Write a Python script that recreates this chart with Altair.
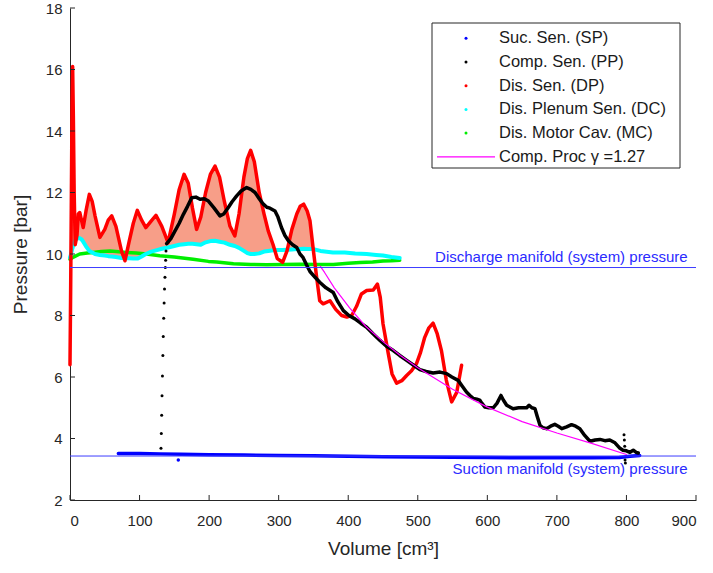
import altair as alt
import pandas as pd

# ---------------- data ----------------
# Dis. Sen. (DP) - red
dp_vol = [0, 1, 2, 3, 3.8, 4.8, 6, 7.5, 10, 12, 14, 16.5, 19, 23, 27.8, 32, 36, 43, 50, 55,
          60, 66, 74, 79, 85, 91, 96.8, 103, 109, 116, 123.6, 132, 141, 150, 157, 164, 170,
          176, 182, 188, 195, 202, 208.5, 215, 222, 230, 237, 243, 250, 255, 259.7, 265, 272,
          279, 285, 292, 298, 305.7, 312, 319, 326, 331, 336, 341, 345, 350,
          354.6, 359, 364, 373.8, 382, 390.6, 398, 405, 412, 419, 426.5, 436, 442, 446, 450,
          457.6, 463, 469.6, 477, 484, 491, 498, 504, 510, 516, 522, 528, 534, 541, 548.7, 556, 563]
dp_p = [6.4, 9.0, 12.0, 15.0, 16.1, 14.5, 12.0, 10.3, 10.6, 11.3, 11.35, 11.1, 10.86, 11.4, 11.94,
        11.7, 11.24, 10.54, 10.8, 11.1, 11.24, 10.9, 10.1, 9.78, 10.4, 11.0, 11.42, 11.1, 10.86,
        11.05, 11.26, 10.9, 10.37, 11.3, 12.1, 12.59, 12.3, 11.5, 10.8, 11.2, 12.0, 12.6, 12.86,
        12.5, 11.7, 10.9, 10.59, 11.3, 12.5, 13.1, 13.37, 13.0, 12.0, 11.3, 10.75, 10.3, 9.85,
        9.73, 10.1, 10.8, 11.3, 11.55, 11.62, 11.4, 11.08, 10.1,
        9.24, 8.48, 8.38, 8.48, 8.2, 8.0, 7.95, 8.0, 8.3, 8.7, 8.81, 8.83, 9.02, 8.6, 7.73,
        6.76, 6.1, 5.8, 5.88, 6.05, 6.2, 6.43, 6.8, 7.29, 7.6, 7.75, 7.4, 6.86, 5.9, 5.19, 5.5, 6.38]

# Dis. Plenum Sen. (DC) - cyan
dc_vol = [0, 1, 2, 3, 3.8, 4.8, 6, 7.5, 10, 12, 14, 16.5, 19, 23, 27.8, 32, 36, 43, 50, 55,
          60, 66, 74, 79, 85, 91, 96.8, 103, 109, 116, 123.6, 132, 141, 150, 157, 164, 170,
          176, 182, 188, 195, 202, 208.5, 215, 222, 230, 237, 243, 250, 255, 259.7, 265, 272,
          279, 285, 292, 298, 305.7, 312, 319, 326, 331, 336, 341, 345, 350,
          360, 378, 395, 410, 426.5, 440, 450, 462, 474]
dc_p = [9.89, 9.95, 10.05, 10.15, 10.2, 10.3, 10.38, 10.45, 10.5, 10.52, 10.51, 10.48, 10.4,
        10.25, 10.1, 10.05, 10.0, 9.97, 9.95, 9.93, 9.92, 9.9, 9.87, 9.86, 9.86, 9.85, 9.85,
        9.92, 10.0, 10.07, 10.12, 10.17, 10.21, 10.26, 10.3, 10.32, 10.33, 10.33, 10.32, 10.3,
        10.38, 10.42, 10.43, 10.4, 10.37, 10.3, 10.26, 10.2, 10.1, 10.03, 10.0, 10.0, 10.02,
        10.08, 10.1, 10.12, 10.13, 10.13, 10.14, 10.15, 10.16, 10.16, 10.17, 10.16, 10.16, 10.16,
        10.1, 10.05, 10.05, 10.02, 10.0, 9.97, 9.95, 9.9, 9.87]

# Dis. Motor Cav. (MC) - green
mc_vol = [0, 5, 14, 25, 33, 45, 57.5, 70, 81, 95, 110, 129, 150, 177, 199, 211, 235, 260,
          283, 305, 330, 355, 378.6, 400, 417, 435, 450, 462, 474]
mc_p = [9.83, 9.9, 10.0, 10.03, 10.05, 10.08, 10.1, 10.07, 10.05, 10.03, 10.0, 9.94, 9.9,
        9.83, 9.76, 9.74, 9.68, 9.66, 9.65, 9.66, 9.67, 9.66, 9.66, 9.7, 9.72, 9.74, 9.77,
        9.78, 9.8]

# Suc. Sen. (SP) - blue
sp_vol = [69.5, 100, 130, 160, 200, 250, 300, 350, 400, 450, 500, 550, 600, 650, 700, 750,
          790, 805, 819]
sp_p = [3.51, 3.51, 3.5, 3.49, 3.47, 3.46, 3.45, 3.44, 3.42, 3.41, 3.4, 3.39, 3.38, 3.37,
        3.37, 3.37, 3.38, 3.42, 3.45]
sp_out_vol = [155.7]
sp_out_p = [3.30]

# Comp. Sen. (PP) - black: fast rise (sparse samples) and continuous part
pp_rise_vol = [130.8, 131.3, 131.8, 132.3, 132.9, 133.5, 134.1, 134.7, 135.3, 135.9, 136.5,
               137.0, 137.5, 138.0, 796.5, 797.0, 797.5, 798.0, 798.5]
pp_rise_p = [3.68, 4.16, 4.76, 5.39, 6.03, 6.7, 7.32, 7.91, 8.41, 8.86, 9.24, 9.56, 9.8, 10.1,
             4.12, 3.95, 3.75, 3.3, 3.2]
pp_vol = [139, 145, 151, 157, 163, 169, 175, 181, 187, 193, 199, 207, 215.6, 221, 227.6, 233,
          239.6, 246, 254, 260, 266, 272, 278, 283, 287.5, 294.7, 299, 304, 309, 314, 320, 326,
          330.6, 335, 340, 345, 352, 359, 368, 378.5, 385, 393, 401, 409.7, 418, 426.5, 436,
          445.7, 455, 464.8, 474, 484, 493, 503, 512, 522, 532, 541.5, 549, 558, 564, 570, 575,
          580, 585, 589, 592, 596.6, 602, 608.6, 614, 619.6, 623, 627.8, 637, 645, 656.6, 660,
          664, 668.5, 672, 675.7, 680, 685, 691, 697, 702, 707, 714, 721, 727, 733, 740, 747.5,
          755, 762, 769, 776, 783.5, 790.7, 795, 800, 805, 809.8, 814, 817]
pp_p = [10.34, 10.5, 10.75, 11.0, 11.29, 11.55, 11.83, 11.85, 11.78, 11.8, 11.72, 11.5, 11.24,
        11.3, 11.51, 11.7, 11.89, 12.05, 12.16, 12.1, 12.0, 11.8, 11.62, 11.52, 11.49, 11.4,
        11.2, 10.86, 10.6, 10.43, 10.3, 10.21, 10.0, 9.89, 9.65, 9.43, 9.25, 9.08, 8.9, 8.75,
        8.45, 8.16, 8.0, 7.89, 7.75, 7.62, 7.4, 7.19, 7.0, 6.86, 6.7, 6.54, 6.4, 6.24, 6.18,
        6.13, 6.16, 6.11, 6.0, 5.89, 5.7, 5.51, 5.4, 5.3, 5.28, 5.25, 5.15, 5.02, 5.0, 5.0, 5.15,
        5.4, 5.25, 5.08, 4.97, 5.0, 5.0, 5.08, 5.0, 4.97, 4.7, 4.43, 4.35, 4.32, 4.4, 4.46, 4.4,
        4.32, 4.38, 4.45, 4.4, 4.32, 4.1, 3.91, 3.95, 3.97, 3.93, 3.95, 3.86, 3.68, 3.62, 3.6,
        3.55, 3.62, 3.55, 3.53]

# Comp. Proc gamma = 1.27 - magenta
cp_vol = [360, 366, 380, 402, 425, 450, 475, 500, 550, 600, 650, 700, 750, 800]
cp_p = [9.6, 9.4, 8.9, 8.25, 7.65, 7.15, 6.7, 6.3, 5.6, 5.02, 4.55, 4.18, 3.84, 3.48]

discharge_manifold = 9.56
suction_manifold = 3.43

x_ticks = [0, 100, 200, 300, 400, 500, 600, 700, 800, 900]
y_ticks = [2, 4, 6, 8, 10, 12, 14, 16, 18]

legend_names = ["Suc. Sen. (SP)", "Comp. Sen. (PP)", "Dis. Sen. (DP)",
                "Dis. Plenum Sen. (DC)", "Dis. Motor Cav. (MC)", "Comp. Proc \u03b3 =1.27"]
legend_colors = ["#0000ff", "#000000", "#ff0000", "#00ffff", "#00ee00", "#ff00ff"]

# ---------------- chart ----------------
W, H = 626, 492
TOP = 8
FONT = "Liberation Sans"
AXC = "#262626"

xs = alt.Scale(domain=[0, 900], nice=False)
ys = alt.Scale(domain=[2, 18], nice=False)
xax = alt.Axis(values=x_ticks, tickSize=0, labelPadding=13, labelFontSize=15,
               labelColor=AXC, domainColor=AXC, grid=False, title="Volume [cm\u00b3]",
               titleFontSize=19, titleFontWeight="normal", titleColor=AXC, titlePadding=11,
               labelFont=FONT, titleFont=FONT)
yax = alt.Axis(values=y_ticks, tickSize=0, labelPadding=8, labelFontSize=15,
               labelColor=AXC, domainColor=AXC, grid=False, title="Pressure [bar]",
               titleFontSize=19, titleFontWeight="normal", titleColor=AXC, titlePadding=15,
               labelFont=FONT, titleFont=FONT)

def df(v, p):
    return pd.DataFrame({"v": v, "p": p})

X = lambda: alt.X("v:Q", scale=xs, axis=xax)
Y = lambda: alt.Y("p:Q", scale=ys, axis=yax)

# fill between DP and DC
fill_rows = []
for v, p, c in zip(dp_vol, dp_p, dc_p):
    if 2 <= v <= 350:
        fill_rows.append({"v": v, "p": p, "lo": min(p, c)})
fill_df = pd.DataFrame(fill_rows)

fill = alt.Chart(fill_df).mark_area(color="#f79e88", opacity=1).encode(
    x=X(), y=Y(), y2="lo:Q")

def line(v, p, color, w):
    return alt.Chart(df(v, p)).mark_line(color=color, strokeWidth=w, strokeJoin="round",
                                         strokeCap="round").encode(x=X(), y=Y())

def dots(v, p, color, s):
    return alt.Chart(df(v, p)).mark_circle(color=color, size=s, opacity=1).encode(x=X(), y=Y())

hl = alt.Chart(pd.DataFrame({"p": [discharge_manifold, suction_manifold]})).mark_rule(
    color="#3c3cff", strokeWidth=1).encode(y=Y(), x=alt.value(0), x2=alt.value(W))

txt_df = pd.DataFrame({"v": [888, 888], "p": [discharge_manifold, suction_manifold],
                       "t": ["Discharge manifold (system) pressure",
                             "Suction manifold (system) pressure"]})
txt_top = alt.Chart(txt_df.iloc[[0]]).mark_text(align="right", baseline="alphabetic", dy=-6,
                                                 color="#2a2aff", font=FONT, fontSize=15).encode(
    x=X(), y=Y(), text="t:N")
txt_bot = alt.Chart(txt_df.iloc[[1]]).mark_text(align="right", baseline="top", dy=6,
                                                 color="#2a2aff", font=FONT, fontSize=15).encode(
    x=X(), y=Y(), text="t:N")

yt = alt.Chart(pd.DataFrame({"p": y_ticks})).mark_rule(color=AXC, strokeWidth=1).encode(
    y=Y(), x=alt.value(0), x2=alt.value(5))
xt = alt.Chart(pd.DataFrame({"v": x_ticks})).mark_rule(color=AXC, strokeWidth=1).encode(
    x=X(), y=alt.value(H), y2=alt.value(H - 5))

layers = [fill,
          line(sp_vol, sp_p, "#0000ff", 3.5), dots(sp_out_vol, sp_out_p, "#0000ff", 12),
          line(mc_vol, mc_p, "#00ee00", 3.5),
          line(dc_vol, dc_p, "#00ffff", 4),
          line(dp_vol, dp_p, "#ff0000", 3.5),
          line(pp_vol, pp_p, "#000000", 3.5), dots(pp_rise_vol, pp_rise_p, "#000000", 9),
          line(cp_vol, cp_p, "#ff00ff", 1.2),
          hl, txt_top, txt_bot, yt, xt]

# legend box (positions in plot-area pixels)
one = pd.DataFrame({"a": [0]})
box = alt.Chart(one).mark_rect(fill="white", stroke=AXC, strokeWidth=1).encode(
    x=alt.value(362), x2=alt.value(610), y=alt.value(15), y2=alt.value(160))
layers.append(box)
for i, (name, col) in enumerate(zip(legend_names, legend_colors)):
    yy = 30.3 + i * 23.7
    if i < 5:
        layers.append(alt.Chart(one).mark_circle(color=col, size=9, opacity=1).encode(
            x=alt.value(396), y=alt.value(yy)))
    else:
        layers.append(alt.Chart(one).mark_rule(color=col, strokeWidth=1.2).encode(
            x=alt.value(367), x2=alt.value(425), y=alt.value(yy)))
    layers.append(alt.Chart(one).mark_text(align="left", baseline="middle", font=FONT,
                                           fontSize=16.5, color="#1a1a1a").encode(
        x=alt.value(429), y=alt.value(yy), text=alt.value(name)))

chart = alt.layer(*layers).properties(
    width=W, height=H,
    autosize=alt.AutoSizeParams(type="none"),
    padding={"left": 70, "top": TOP, "right": 17, "bottom": 573 - TOP - H},
).configure_view(stroke=None).configure_axis(labelFont=FONT, titleFont=FONT)

chart.save("out.html", embed_options={"renderer": "svg", "actions": False})
